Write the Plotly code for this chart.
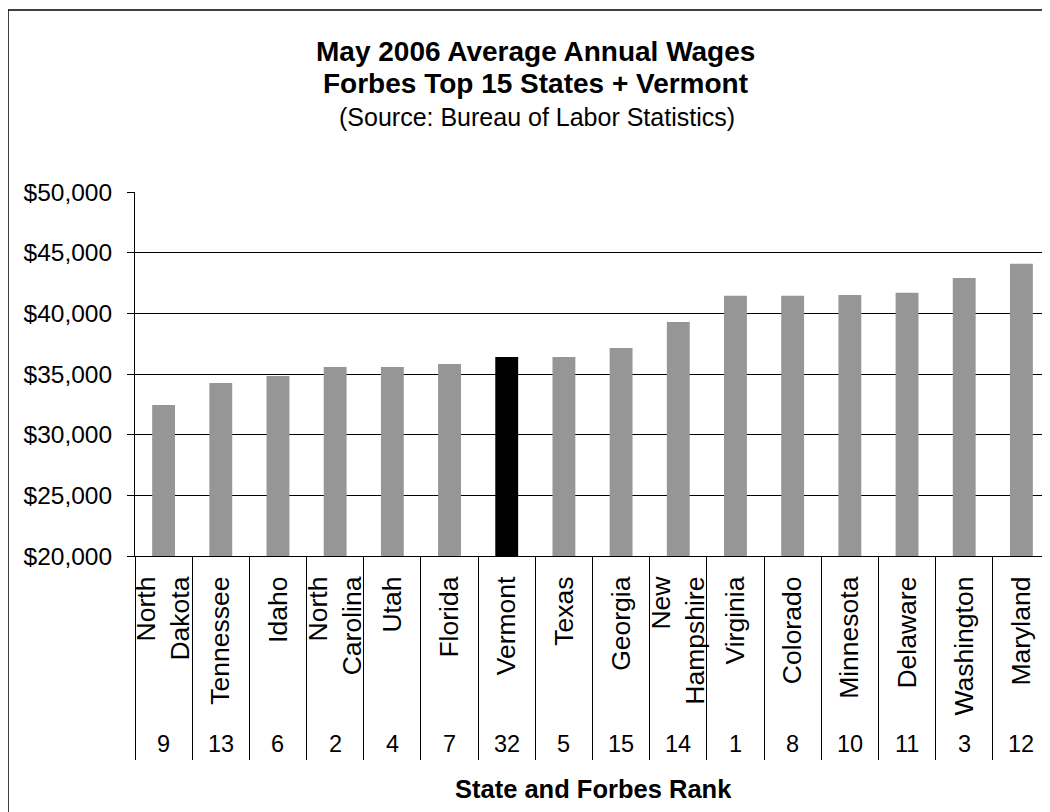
import plotly.graph_objects as go

states = ["North<br>Dakota", "Tennessee", "Idaho", "North<br>Carolina", "Utah", "Florida",
          "Vermont", "Texas", "Georgia", "New<br>Hampshire", "Virginia", "Colorado",
          "Minnesota", "Delaware", "Washington", "Maryland"]
ranks = [9, 13, 6, 2, 4, 7, 32, 5, 15, 14, 1, 8, 10, 11, 3, 12]
wages = [32440, 34260, 34830, 35580, 35580, 35830, 36400, 36400,
         37150, 39290, 41440, 41440, 41520, 41690, 42920, 44080]
highlight = "Vermont"

y_ticks = [20000, 25000, 30000, 35000, 40000, 45000, 50000]

colors = ["#000000" if s == highlight else "#969696" for s in states]

OFF = 8  # default page body margin
W, H = 1050 - OFF, 812 - OFF
ML, MT = 135 - OFF, 192 - OFF
PB = 556 - OFF  # plot bottom in figure px
MR = 0
MB = H - PB
ph = H - MT - MB
pw = W - ML - MR

def py(Y):
    # reference image y (px) -> paper coordinate
    return (PB - (Y - OFF)) / ph

def px(X):
    return ((X - OFF) - ML) / pw

fig = go.Figure()
fig.add_trace(go.Bar(x=states, y=wages, marker=dict(color=colors, line=dict(width=0)),
                     showlegend=False, hoverinfo="x+y"))
fig.add_trace(go.Scatter(x=states, y=wages, xaxis="x2", mode="none",
                         showlegend=False, hoverinfo="skip"))

font = "Arial, 'Liberation Sans', sans-serif"

fig.update_layout(
    width=W, height=H,
    margin=dict(l=ML, r=MR, t=MT, b=MB, pad=0),
    paper_bgcolor="white", plot_bgcolor="white",
    bargap=0.6,
    font=dict(family=font, color="black"),
    xaxis=dict(type="category", categoryorder="array", categoryarray=states,
               tickangle=-90, ticks="", showline=True, linecolor="black", linewidth=1,
               tickfont=dict(size=26.5, family=font, color="black"),
               ticklabelstandoff=9, showgrid=False),
    xaxis2=dict(type="category", categoryorder="array", categoryarray=states,
                overlaying="x", matches="x", anchor="y", side="bottom",
                showticklabels=False, ticks="outside", tickson="boundaries",
                ticklen=203, tickcolor="black", tickwidth=1, showgrid=False),
    yaxis=dict(range=[20000, 50000], tickvals=y_ticks, tickformat="$,.0f",
               showline=True, linecolor="black", linewidth=1,
               ticks="outside", ticklen=7, tickcolor="black",
               showgrid=True, gridcolor="black", gridwidth=1, zeroline=False,
               tickfont=dict(size=24.5, family=font, color="black"),
               ticklabelstandoff=10),
)

annotations = [
    dict(text="<b>May 2006 Average Annual Wages</b>", x=px(535), y=py(51), xref="paper", yref="paper",
         showarrow=False, font=dict(size=28, family=font, color="black"), xanchor="center", yanchor="middle"),
    dict(text="<b>Forbes Top 15 States + Vermont</b>", x=px(535), y=py(84), xref="paper", yref="paper",
         showarrow=False, font=dict(size=28, family=font, color="black"), xanchor="center", yanchor="middle"),
    dict(text="(Source: Bureau of Labor Statistics)", x=px(537), y=py(117), xref="paper", yref="paper",
         showarrow=False, font=dict(size=25, family=font, color="black"), xanchor="center", yanchor="middle"),
    dict(text="<b>State and Forbes Rank</b>", x=px(593), y=py(789), xref="paper", yref="paper",
         showarrow=False, font=dict(size=25.5, family=font, color="black"), xanchor="center", yanchor="middle"),
]
for s, r in zip(states, ranks):
    annotations.append(dict(text=str(r), x=s, xref="x", y=py(744), yref="paper",
                            showarrow=False, font=dict(size=23.5, family=font, color="black"),
                            xanchor="center", yanchor="middle"))
fig.update_layout(annotations=annotations)

fig.add_shape(type="rect", xref="paper", yref="paper",
              x0=px(8), x1=px(1100), y0=py(10), y1=py(900),
              line=dict(color="black", width=1.5), fillcolor="rgba(0,0,0,0)", layer="below")

fig.write_html("out.html")
